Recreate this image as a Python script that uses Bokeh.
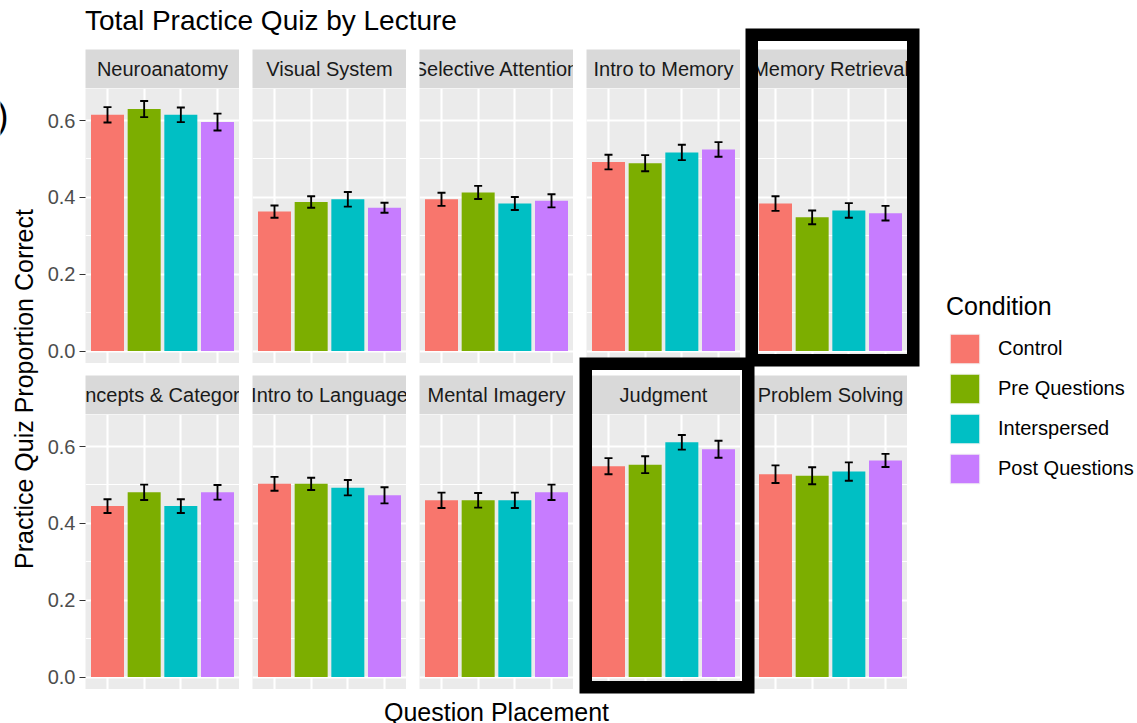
import math

from bokeh.core.properties import value
from bokeh.embed import file_html
from bokeh.models import (ColumnDataSource, FactorRange, FixedTicker, GridBox, Legend,
                          LegendItem, NumeralTickFormatter, Range1d, TeeHead, Whisker)
from bokeh.plotting import figure
from bokeh.resources import INLINE

# ---- data -----------------------------------------------------------------
lectures = ["Neuroanatomy", "Visual System", "Selective Attention", "Intro to Memory",
            "Memory Retrieval", "Concepts & Categories", "Intro to Language",
            "Mental Imagery", "Judgment", "Problem Solving"]
conditions = ["Control", "Pre Questions", "Interspersed", "Post Questions"]

control = [0.615, 0.363, 0.395, 0.492, 0.384, 0.445, 0.503, 0.460, 0.549, 0.528]
pre_questions = [0.630, 0.388, 0.413, 0.489, 0.348, 0.481, 0.503, 0.460, 0.553, 0.524]
interspersed = [0.615, 0.395, 0.384, 0.517, 0.366, 0.445, 0.493, 0.460, 0.611, 0.535]
post_questions = [0.596, 0.373, 0.391, 0.525, 0.359, 0.481, 0.473, 0.481, 0.593, 0.564]

control_se = [0.020, 0.016, 0.017, 0.019, 0.019, 0.018, 0.018, 0.020, 0.021, 0.023]
pre_questions_se = [0.021, 0.015, 0.017, 0.021, 0.018, 0.020, 0.016, 0.019, 0.022, 0.022]
interspersed_se = [0.019, 0.019, 0.017, 0.020, 0.019, 0.018, 0.020, 0.020, 0.019, 0.024]
post_questions_se = [0.022, 0.013, 0.017, 0.019, 0.019, 0.019, 0.021, 0.020, 0.022, 0.017]

y_ticks = [0.0, 0.2, 0.4, 0.6]
y_minor_ticks = [0.1, 0.3, 0.5]
highlighted = ["Memory Retrieval", "Judgment"]

title_text = "Total Practice Quiz by Lecture"
x_title = "Question Placement"
y_title = "Practice Quiz Proportion Correct"
legend_title = "Condition"

# ---- styling / layout -----------------------------------------------------
FONT = "Liberation Sans"
colors = ["#F8766D", "#7CAE00", "#00BFC4", "#C77CFF"]
PANEL_BG = "#EBEBEB"
STRIP_BG = "#D9D9D9"

W, H = 1137, 723
LEFT, PANEL_W, GAP_X, RIGHT = 85, 154, 13, 230
TOP, STRIP_H, PANEL_H, GAP_Y, BOTTOM = 49, 39, 275, 12, 34
NCOL = 5

# a zero-width first track keeps the full-page overlay out of the facets' frame alignment
col_tracks = [0, LEFT]
for c in range(NCOL):
    col_tracks.append(PANEL_W)
    col_tracks.append(GAP_X if c < NCOL - 1 else RIGHT)
row_tracks = [0, TOP, STRIP_H, PANEL_H, GAP_Y, STRIP_H, PANEL_H, BOTTOM]

# outer box padding (left, right, top, bottom) around a highlighted facet
highlight_pad = {"Memory Retrieval": (8, 12, 21, 3), "Judgment": (7, 14, 18, 4)}
HIGHLIGHT_W = 12.5
ERR_W = 1.9

means = list(zip(control, pre_questions, interspersed, post_questions))
ses = list(zip(control_se, pre_questions_se, interspersed_se, post_questions_se))
ymax = max(m + s for mm, ss in zip(means, ses) for m, s in zip(mm, ss))
y_lo, y_hi = -0.05 * ymax, 1.05 * ymax


def strip_figure(label):
    s = figure(width=PANEL_W, height=STRIP_H, x_range=Range1d(0, 1), y_range=Range1d(0, 1),
               x_axis_location=None, y_axis_location=None, toolbar_location=None,
               min_border=0, output_backend="svg", background_fill_color=STRIP_BG,
               border_fill_color=STRIP_BG, outline_line_color=None)
    s.grid.visible = False
    s.text(x=[0.5], y=[0.5], text=[label], text_align="center", text_baseline="middle",
           text_font=value(FONT), text_font_size="20px", text_color="#1A1A1A")
    return s


def panel_figure(idx, with_axis):
    vals, errs = means[idx], ses[idx]
    src = ColumnDataSource(dict(
        cond=conditions, mean=list(vals), color=colors,
        upper=[v + e for v, e in zip(vals, errs)],
        lower=[v - e for v, e in zip(vals, errs)],
    ))
    p = figure(width=PANEL_W + (LEFT if with_axis else 0), height=PANEL_H,
               x_range=FactorRange(*conditions, range_padding=0.1, range_padding_units="absolute"),
               y_range=Range1d(y_lo, y_hi),
               x_axis_location=None, y_axis_location="left" if with_axis else None,
               toolbar_location=None, output_backend="svg", min_border=0,
               min_border_left=LEFT if with_axis else 0,
               background_fill_color=PANEL_BG, border_fill_color="white",
               outline_line_color=None)
    p.ygrid.ticker = FixedTicker(ticks=y_ticks, minor_ticks=y_minor_ticks)
    p.ygrid.grid_line_color = "white"
    p.ygrid.grid_line_width = 2.1
    p.ygrid.minor_grid_line_color = "white"
    p.ygrid.minor_grid_line_width = 1.1
    p.xgrid.grid_line_color = "white"
    p.xgrid.grid_line_width = 2.1
    if with_axis:
        ax = p.yaxis[0]
        ax.ticker = FixedTicker(ticks=y_ticks)
        ax.formatter = NumeralTickFormatter(format="0.0")
        ax.axis_line_color = None
        ax.major_tick_in = 0
        ax.major_tick_out = 6
        ax.major_tick_line_color = "#333333"
        ax.major_tick_line_width = 1.2
        ax.minor_tick_line_color = None
        ax.major_label_standoff = 4
        ax.major_label_text_font = FONT
        ax.major_label_text_font_size = "20px"
        ax.major_label_text_color = "#4D4D4D"
    p.vbar(x="cond", top="mean", width=0.9, fill_color="color", line_color=None, source=src)
    head = dict(size=8, line_color="black", line_width=ERR_W)
    p.add_layout(Whisker(base="cond", upper="upper", lower="lower", source=src,
                         level="annotation", line_color="black", line_width=ERR_W,
                         upper_head=TeeHead(**head), lower_head=TeeHead(**head)))
    return p


children = []
panel_boxes = {}
for i, lec in enumerate(lectures):
    r, c = divmod(i, NCOL)
    strip_row, panel_row, col = 2 + 3 * r, 3 + 3 * r, 2 + 2 * c
    children.append((strip_figure(lec), strip_row, col))
    if c == 0:
        children.append((panel_figure(i, True), panel_row, col - 1, 1, 2))
    else:
        children.append((panel_figure(i, False), panel_row, col))
    x0 = sum(col_tracks[:col])
    y0 = sum(row_tracks[:strip_row])
    panel_boxes[lec] = (x0, x0 + PANEL_W, y0, y0 + STRIP_H + PANEL_H)

# ---- overlay: titles, highlight boxes and legend -----------------------------
ov = figure(width=W, height=H, x_range=Range1d(0, W), y_range=Range1d(H, 0),
            x_axis_location=None, y_axis_location=None, toolbar_location=None,
            min_border=0, output_backend="svg", background_fill_color=None,
            border_fill_color=None, outline_line_color=None)
ov.grid.visible = False

panels_left = LEFT
panels_right = LEFT + NCOL * PANEL_W + (NCOL - 1) * GAP_X
txt = dict(text_font=value(FONT), text_color="black", text_baseline="middle")
ov.text(x=[LEFT - 0.5], y=[20], text=[title_text], text_font_size="28px", **txt)
ov.text(x=[(panels_left + panels_right) / 2], y=[711], text=[x_title],
        text_font_size="25px", text_align="center", **txt)
ov.text(x=[23], y=[TOP + STRIP_H + (H - TOP - STRIP_H - BOTTOM) / 2], text=[y_title],
        angle=math.pi / 2, text_font_size="25px", text_align="center", **txt)
ov.text(x=[-4], y=[115], text=[")"], text_font_size="36px", **txt)

for lec in highlighted:
    x0, x1, y0, y1 = panel_boxes[lec]
    pl, pr, pt, pb = highlight_pad[lec]
    hw = HIGHLIGHT_W / 2
    ov.quad(left=[x0 - pl + hw], right=[x1 + pr - hw], top=[y0 - pt + hw],
            bottom=[y1 + pb - hw], fill_color=None, line_color="black",
            line_width=HIGHLIGHT_W, line_join="miter")

# legend keys: each proxy bar sits beyond the right edge, so only its legend swatch shows
items = []
for cond, col in zip(conditions, colors):
    rr = ov.vbar(x=[W + 50], top=[0], bottom=[0], width=1, fill_color=col,
                 line_color="#F2F2F2", line_width=1)
    items.append(LegendItem(label=cond, renderers=[rr]))
legend = Legend(items=items, location=(946, 236), title=legend_title,
                glyph_width=37, glyph_height=37, spacing=3, label_standoff=15,
                label_height=37, label_text_font=FONT, label_text_font_size="20px",
                label_text_color="black", label_text_baseline="middle",
                title_text_font=FONT, title_text_font_size="25px",
                title_text_font_style="normal", title_text_color="black",
                title_standoff=9, padding=0, margin=0, border_line_color=None,
                background_fill_color=None)
ov.add_layout(legend)

children.append((ov, 0, 0, len(row_tracks), len(col_tracks)))

layout = GridBox(children=children,
                 rows=[f"{h}px" for h in row_tracks],
                 cols=[f"{w}px" for w in col_tracks],
                 spacing=0)

open("out.html", "w").write(file_html(layout, INLINE))
